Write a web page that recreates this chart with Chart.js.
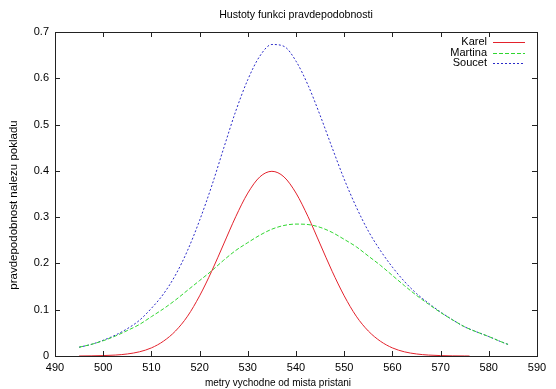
<!DOCTYPE html>
<html>
<head>
<meta charset="utf-8">
<script src="https://cdn.jsdelivr.net/npm/chart.js@4/dist/chart.umd.min.js"></script>
<style>
  html, body { margin: 0; padding: 0; background: #fff; }
  #wrap { width: 556px; height: 389px; }
</style>
</head>
<body>
<div id="wrap"><canvas id="chart" width="556" height="389"></canvas></div>
<script>
// ---- data ----
const gridX = [495, 497.5, 500, 502.5, 505, 507.5, 510, 512.5, 515, 517.5, 520, 522.5, 525, 527.5, 530, 532.5,
  535, 537.5, 540, 542.5, 545, 547.5, 550, 552.5, 555, 557.5, 560, 562.5, 565, 567.5, 570, 572.5, 575, 577.5,
  580, 582.5, 584];
const karelX = [495, 497.5, 500, 502.5, 505, 507.5, 510, 512.5, 515, 517.5, 520, 522.5, 525, 527.5, 530, 532.5,
  535, 537.5, 540, 542.5, 545, 547.5, 550, 552.5, 555, 557.5, 560, 562.5, 565, 567.5, 570, 572.5, 575, 576];
const karelY = [0.000, 0.0003, 0.0009, 0.002, 0.0044, 0.009, 0.0175, 0.032, 0.054, 0.086, 0.130, 0.183, 0.242,
  0.301, 0.352, 0.387, 0.399, 0.387, 0.352, 0.301, 0.242, 0.183, 0.130, 0.086, 0.054, 0.032, 0.0175, 0.009,
  0.0044, 0.002, 0.0009, 0.0003, 0.0001, 0.0];
const martinaY = [0.019, 0.025, 0.033, 0.043, 0.055, 0.068, 0.085, 0.102, 0.121, 0.142, 0.163, 0.184, 0.207,
  0.228, 0.245, 0.261, 0.274, 0.282, 0.285, 0.284, 0.278, 0.267, 0.252, 0.236, 0.216, 0.196, 0.174, 0.152,
  0.131, 0.112, 0.094, 0.078, 0.063, 0.052, 0.042, 0.031, 0.025];
const soucetY = [0.019, 0.025, 0.034, 0.045, 0.059, 0.077, 0.103, 0.134, 0.175, 0.228, 0.293, 0.367, 0.449,
  0.529, 0.597, 0.648, 0.673, 0.669, 0.637, 0.585, 0.520, 0.450, 0.382, 0.322, 0.270, 0.228, 0.192, 0.161,
  0.135, 0.114, 0.095, 0.078, 0.063, 0.052, 0.042, 0.031, 0.025];

const xTicks = [490, 500, 510, 520, 530, 540, 550, 560, 570, 580, 590];
const yTicks = [0, 0.1, 0.2, 0.3, 0.4, 0.5, 0.6, 0.7];
const yTickLabels = ['0', '0.1', '0.2', '0.3', '0.4', '0.5', '0.6', '0.7'];

const titleText = 'Hustoty funkci pravdepodobnosti';
const xLabel = 'metry vychodne od mista pristani';
const yLabel = 'pravdepodobnost nalezu pokladu';

const FONT = "'Liberation Sans', Arial, sans-serif";
const pts = (xs, ys) => xs.map((x, i) => ({ x: x, y: ys[i] }));

// nadpis a popisky os (gnuplot je centruje trochu jinak nez Chart.js)
const labelsGp = {
  id: 'labelsGp',
  afterDraw(chart) {
    const { ctx, chartArea: a, width } = chart;
    ctx.save();
    ctx.fillStyle = '#000';
    ctx.textAlign = 'center';
    ctx.textBaseline = 'middle';
    ctx.font = '10.6px ' + FONT;
    ctx.fillText(titleText, (a.left + a.right) / 2, 15);
    ctx.font = '10px ' + FONT;
    ctx.fillText(xLabel, width / 2, 383);
    ctx.translate(14, 205);
    ctx.rotate(-Math.PI / 2);
    ctx.font = '11.5px ' + FONT;
    ctx.fillText(yLabel, 0, 0);
    ctx.restore();
  }
};

// ramecek + ticky dovnitr (jako gnuplot)
const frameTicks = {
  id: 'frameTicks',
  afterDatasetsDraw(chart) {
    const { ctx, chartArea: a, scales } = chart;
    ctx.save();
    ctx.strokeStyle = '#222';
    ctx.lineWidth = 1;
    ctx.beginPath();
    xTicks.forEach(v => {
      const px = Math.round(scales.x.getPixelForValue(v)) + 0.5;
      ctx.moveTo(px, a.bottom); ctx.lineTo(px, a.bottom - 5);
      ctx.moveTo(px, a.top); ctx.lineTo(px, a.top + 5);
    });
    yTicks.forEach(v => {
      const py = Math.round(scales.y.getPixelForValue(v)) + 0.5;
      ctx.moveTo(a.left, py); ctx.lineTo(a.left + 5, py);
      ctx.moveTo(a.right, py); ctx.lineTo(a.right - 5, py);
    });
    ctx.stroke();
    ctx.strokeRect(Math.round(a.left) + 0.5, Math.round(a.top) + 0.5,
      Math.round(a.right - a.left), Math.round(a.bottom - a.top));
    ctx.restore();
  }
};

// legenda vpravo nahore: text, pak ukazka cary
const keyBox = {
  id: 'keyBox',
  afterDraw(chart) {
    const { ctx, chartArea: a } = chart;
    ctx.save();
    ctx.font = '11px ' + FONT;
    ctx.textAlign = 'right';
    ctx.textBaseline = 'middle';
    chart.data.datasets.forEach((ds, i) => {
      const y = a.top + 10 + i * 10.5;
      ctx.fillStyle = '#000';
      ctx.fillText(ds.label, a.right - 50, y);
      ctx.strokeStyle = ds.borderColor;
      ctx.lineWidth = 1;
      ctx.setLineDash(ds.borderDash || []);
      ctx.beginPath();
      ctx.moveTo(a.right - 44, Math.round(y) + 0.5);
      ctx.lineTo(a.right - 12, Math.round(y) + 0.5);
      ctx.stroke();
    });
    ctx.restore();
  }
};

new Chart(document.getElementById('chart'), {
  type: 'line',
  data: {
    datasets: [
      { label: 'Karel', data: pts(karelX, karelY), borderColor: '#e3222c', borderWidth: 1 },
      { label: 'Martina', data: pts(gridX, martinaY), borderColor: '#2fd62f', borderWidth: 1, borderDash: [4, 2] },
      { label: 'Soucet', data: pts(gridX, soucetY), borderColor: '#2a2ac8', borderWidth: 1, borderDash: [2, 2] }
    ]
  },
  plugins: [frameTicks, keyBox, labelsGp],
  options: {
    responsive: false,
    animation: false,
    devicePixelRatio: 1,
    layout: { padding: { left: 0, right: 19, top: 32, bottom: 0 } },
    elements: { point: { radius: 0 }, line: { cubicInterpolationMode: 'monotone', fill: false } },
    plugins: {
      legend: { display: false },
      tooltip: { enabled: false },
      title: { display: false }
    },
    scales: {
      x: {
        type: 'linear', min: 490, max: 590,
        afterBuildTicks: s => { s.ticks = xTicks.map(v => ({ value: v })); },
        afterFit: s => { s.height = 33; },
        grid: { display: false, drawTicks: false },
        border: { display: false },
        ticks: { color: '#000', padding: 5, maxRotation: 0, font: { family: FONT, size: 11 } }
      },
      y: {
        type: 'linear', min: 0, max: 0.7,
        afterBuildTicks: s => { s.ticks = yTicks.map(v => ({ value: v })); },
        afterFit: s => { s.width = 55; },
        grid: { display: false, drawTicks: false },
        border: { display: false },
        ticks: {
          color: '#000', padding: 6, font: { family: FONT, size: 11 },
          callback: (v) => yTickLabels[yTicks.indexOf(v)] ?? ''
        }
      }
    }
  }
});
</script>
</body>
</html>
